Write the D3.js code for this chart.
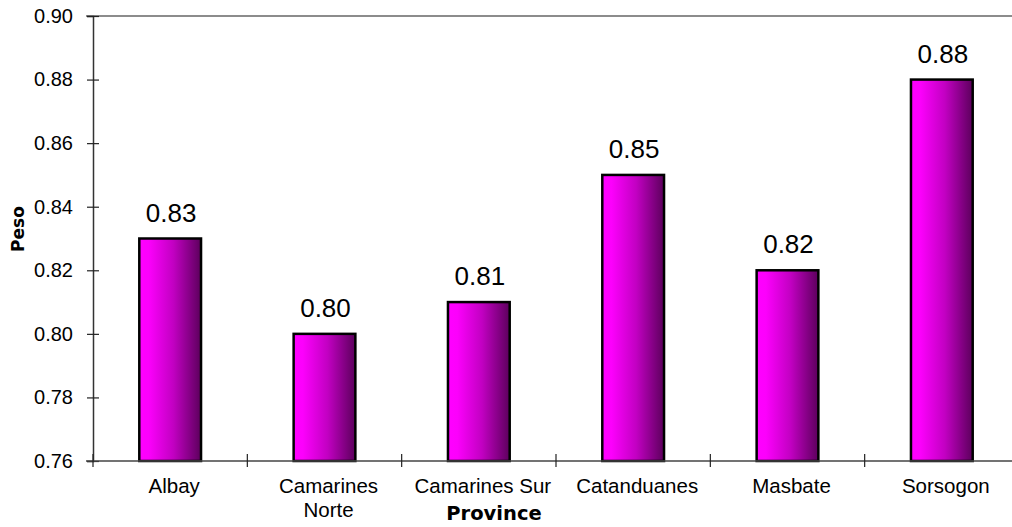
<!DOCTYPE html>
<html>
<head>
<meta charset="utf-8">
<script src="https://cdn.jsdelivr.net/npm/d3@7"></script>
<style>
  html, body { margin: 0; padding: 0; background: #fff; }
  svg { display: block; }
</style>
</head>
<body>
<svg id="chart" width="1012" height="527"></svg>
<script>
// Average weight per province
const provinces = ["Albay", "Camarines Norte", "Camarines Sur", "Catanduanes", "Masbate", "Sorsogon"];
const provinceLines = [["Albay"], ["Camarines", "Norte"], ["Camarines Sur"], ["Catanduanes"], ["Masbate"], ["Sorsogon"]];
const pesoValues = [0.83, 0.80, 0.81, 0.85, 0.82, 0.88];
const yTicks = [0.76, 0.78, 0.80, 0.82, 0.84, 0.86, 0.88, 0.90];

const svg = d3.select("#chart");
const plotLeft = 93, plotRight = 1019, plotTop = 16, plotBottom = 461;

const x = d3.scaleBand().domain(provinces).range([plotLeft, plotRight]).padding(0);
const y = d3.scaleLinear().domain([0.76, 0.90]).range([plotBottom, plotTop]);

// Bar fill: bright magenta fading to deep purple
const defs = svg.append("defs");
const grad = defs.append("linearGradient").attr("id", "barFill")
  .attr("x1", "0%").attr("x2", "100%").attr("y1", "0%").attr("y2", "0%");
[[0, "#ff00ff"], [0.15, "#fc00fc"], [0.55, "#c200c2"], [1, "#5c005c"]].forEach(([o, c]) =>
  grad.append("stop").attr("offset", o).attr("stop-color", c));

// Plot frame top edge
svg.append("line")
  .attr("x1", plotLeft - 7).attr("x2", 1012).attr("y1", plotTop).attr("y2", plotTop)
  .attr("stroke", "#8c8c8c").attr("stroke-width", 2);

// Bars
const bw = x.bandwidth();
svg.append("g").selectAll("rect").data(provinces).join("rect")
  .attr("x", d => x(d) + bw * 0.3)
  .attr("width", bw * 0.4)
  .attr("y", (d, i) => y(pesoValues[i]))
  .attr("height", (d, i) => y(0.76) - y(pesoValues[i]))
  .attr("fill", "url(#barFill)")
  .attr("stroke", "#000").attr("stroke-width", 2.5);

// Value labels
svg.append("g").selectAll("text").data(provinces).join("text")
  .attr("x", d => x(d) + bw / 2 + 1)
  .attr("y", (d, i) => y(pesoValues[i]) - 17)
  .attr("text-anchor", "middle")
  .attr("font-family", "Liberation Sans, Arial, sans-serif")
  .attr("font-size", 26)
  .attr("fill", "#000")
  .text((d, i) => pesoValues[i].toFixed(2));

// Y axis
const yAxis = svg.append("g").attr("transform", `translate(${plotLeft},0)`)
  .call(d3.axisLeft(y).tickValues(yTicks).tickFormat(d3.format(".2f")).tickSize(6).tickPadding(14));
yAxis.select(".domain").attr("stroke", "#333").attr("stroke-width", 1.5);
yAxis.selectAll(".tick line").attr("x1", -6).attr("x2", 6).attr("stroke", "#222").attr("stroke-width", 1.2);
yAxis.selectAll(".tick text")
  .attr("font-family", "Liberation Sans, Arial, sans-serif")
  .attr("font-size", 20).attr("fill", "#000");

// X axis line with category separators
svg.append("line").attr("x1", plotLeft - 7).attr("x2", 1012).attr("y1", plotBottom).attr("y2", plotBottom)
  .attr("stroke", "#444").attr("stroke-width", 1.5);
const boundaries = provinces.map(d => x(d)).concat([x(provinces[provinces.length - 1]) + bw]);
svg.append("g").selectAll("line").data(boundaries).join("line")
  .attr("x1", d => d).attr("x2", d => d)
  .attr("y1", plotBottom - 7).attr("y2", plotBottom + 6)
  .attr("stroke", "#222").attr("stroke-width", 1.2);

// Category labels
const catLabels = svg.append("g").selectAll("text").data(provinces).join("text")
  .attr("x", d => x(d) + bw / 2 + 4)
  .attr("y", 493)
  .attr("text-anchor", "middle")
  .attr("font-family", "Liberation Sans, Arial, sans-serif")
  .attr("font-size", 20.5)
  .attr("fill", "#000");
catLabels.each(function(d, i) {
  const t = d3.select(this);
  provinceLines[i].forEach((line, j) => {
    t.append("tspan").attr("x", x(d) + bw / 2 + 4).attr("dy", j === 0 ? 0 : 24).text(line);
  });
});

// Axis titles
svg.append("text")
  .attr("x", 494).attr("y", 520)
  .attr("text-anchor", "middle")
  .attr("font-family", "DejaVu Sans, Verdana, sans-serif")
  .attr("font-weight", "bold").attr("font-size", 19.5)
  .text("Province");

svg.append("text")
  .attr("transform", "translate(24,229) rotate(-90)")
  .attr("text-anchor", "middle")
  .attr("font-family", "DejaVu Sans, Verdana, sans-serif")
  .attr("font-weight", "bold").attr("font-size", 17)
  .text("Peso");
</script>
</body>
</html>
